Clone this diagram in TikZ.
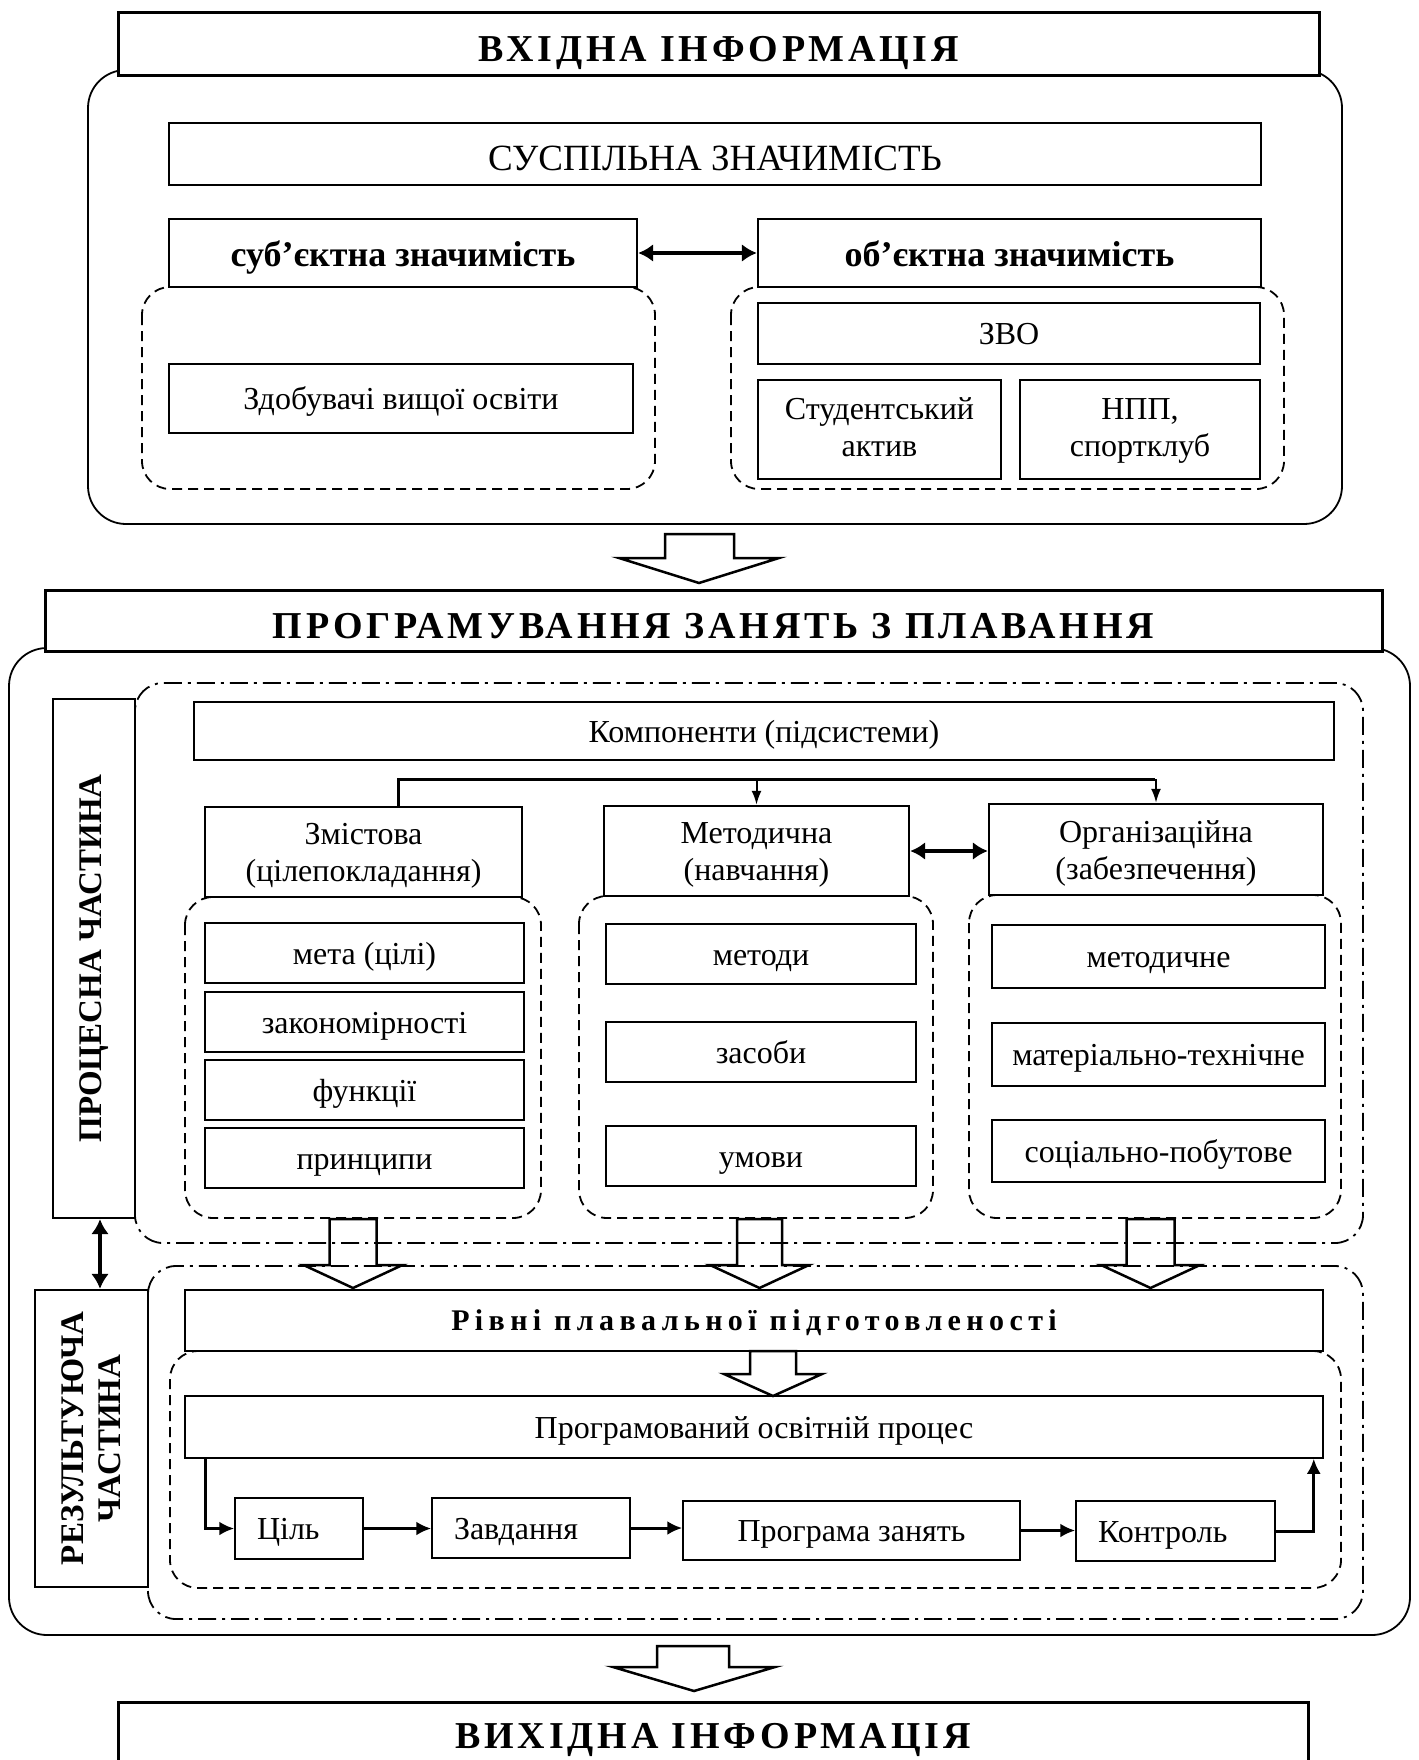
\documentclass[tikz,border=0pt]{standalone}
\usepackage{fontspec}
\setmainfont{Liberation Serif}
\newfontfamily\spacedfont[LetterSpace=10]{Liberation Serif}
\newfontfamily\widefont[LetterSpace=18]{Liberation Serif}
\newcommand\lstrut{\rule[-7pt]{0pt}{31pt}}
\newcommand\hstrut{\rule[-2pt]{0pt}{31pt}}
\usetikzlibrary{arrows.meta,positioning}

\begin{document}
\begin{tikzpicture}[
	x = 1pt, y = -1pt, % one unit = one pixel of the scheme
	> = {Latex[length=15pt,width=14pt]}, % arrow head style
	font = \fontsize{32}{37}\selectfont,
	T/.style={draw, line width=3pt, fill=white, inner sep=0pt, text depth=0pt, font=\fontsize{38}{44}\selectfont\spacedfont\bfseries},  % titles
	box/.style={draw, line width=1.5pt, fill=white, inner sep=0pt, align=center},   % plain boxes
	H/.style={box, line width=2.4pt},                                               % headers
	B/.style={box, text height=26pt, text depth=4pt},                               % one line boxes
	L/.style={B, align=left, inner xsep=22pt},                                      % left aligned boxes
	S/.style={draw, line width=2.4pt, fill=white, inner sep=0pt, rotate=90, align=center, font=\fontsize{33}{37}\selectfont\bfseries}, % side labels
	outer/.style={line width=1.8pt, rounded corners=38pt},
	dashbox/.style={line width=1.8pt, dash pattern=on 10pt off 6pt, rounded corners=28pt},
	dotbox/.style={line width=1.8pt, dash pattern=on 18pt off 6pt on 3pt off 6pt, rounded corners=28pt},
	hollow/.style={line width=2.5pt, line join=miter},
	flow/.style={line width=3pt, ->},
	drop/.style={line width=2pt, -{Latex[length=14pt,width=10pt]}},
	both/.style={line width=4pt, {Latex[length=15pt,width=18pt]}-{Latex[length=15pt,width=18pt]}},
	]
	\useasboundingbox (0,0) rectangle (1418,1760);

	% Frames
	\draw[outer] (88,70) rectangle (1342,524);
	\draw[dashbox] (142,287) rectangle (655,489);
	\draw[dashbox] (731,287) rectangle (1284,489);

	\draw[outer] (9,648) rectangle (1410,1635);
	\draw[dotbox] (135,683) rectangle (1363,1243);
	\draw[dashbox] (185,897) rectangle (541,1218);
	\draw[dashbox] (579,896) rectangle (933,1218);
	\draw[dashbox] (969,895) rectangle (1341,1218);
	\draw[dotbox] (148,1266) rectangle (1363,1619);
	\draw[dashbox] (170,1351) rectangle (1341,1588);

	% Nodes: input
	\node[T, text height=34pt, minimum width=1201pt, minimum height=63pt] (IN) at (718.5,44.5) {ВХІДНА ІНФОРМАЦІЯ};
	\node[box, text height=33pt, text depth=0pt, minimum width=1092pt, minimum height=62pt, font=\fontsize{37}{42}\selectfont] (SOC) at (715,154) {СУСПІЛЬНА ЗНАЧИМІСТЬ};
	\node[H, text height=30pt, text depth=3pt, minimum width=468pt, minimum height=68pt, font=\fontsize{36}{40}\selectfont\bfseries] (SUB) at (403,253) {суб’єктна значимість};
	\node[H, text height=30pt, text depth=3pt, minimum width=503pt, minimum height=68pt, font=\fontsize{36}{40}\selectfont\bfseries] (OBJ) at (1009.5,253) {об’єктна значимість};
	\node[B, minimum width=464pt, minimum height=69pt] (ZDO) at (401,398.5) {Здобувачі вищої освіти};
	\node[B, minimum width=502pt, minimum height=61pt] (ZVO) at (1009,333.5) {ЗВО};
	\node[box, minimum width=243pt, minimum height=99pt] (ACT) at (879.5,429.5) {Студентський\lstrut\\актив\lstrut};
	\node[box, minimum width=240pt, minimum height=99pt] (NPP) at (1140,429.5) {НПП,\lstrut\\спортклуб\lstrut};

	% Nodes: programming
	\node[T, text height=35pt, minimum width=1337pt, minimum height=61pt] (PROG) at (713.5,620.5) {ПРОГРАМУВАННЯ ЗАНЯТЬ З ПЛАВАННЯ};
	\node[S, minimum width=519pt, minimum height=82pt] (PROC) at (94,958.5) {ПРОЦЕСНА ЧАСТИНА};
	\node[B, minimum width=1140pt, minimum height=58pt] (KOMP) at (764,731) {Компоненти (підсистеми)};

	\node[H, minimum width=317pt, minimum height=90pt] (ZM) at (363.5,852) {Змістова\hstrut\\(цілепокладання)\hstrut};
	\node[H, minimum width=305pt, minimum height=90pt] (MET) at (756.5,851) {Методична\hstrut\\(навчання)\hstrut};
	\node[H, minimum width=334pt, minimum height=91pt] (ORG) at (1156,849.5) {Організаційна\hstrut\\(забезпечення)\hstrut};

	\node[B, minimum width=319pt, minimum height=60pt] (ZM1) at (364.5,953) {мета (цілі)};
	\node[B, minimum width=319pt, minimum height=60pt] (ZM2) at (364.5,1022) {закономірності};
	\node[B, minimum width=319pt, minimum height=60pt] (ZM3) at (364.5,1090) {функції};
	\node[B, minimum width=319pt, minimum height=60pt] (ZM4) at (364.5,1158) {принципи};

	\node[B, minimum width=310pt, minimum height=60pt] (MET1) at (761,954) {методи};
	\node[B, minimum width=310pt, minimum height=60pt] (MET2) at (761,1052) {засоби};
	\node[B, minimum width=310pt, minimum height=60pt] (MET3) at (761,1156) {умови};

	\node[B, minimum width=333pt, minimum height=63pt] (ORG1) at (1158.5,956.5) {методичне};
	\node[B, minimum width=333pt, minimum height=63pt] (ORG2) at (1158.5,1054.5) {матеріально-технічне};
	\node[B, minimum width=333pt, minimum height=62pt] (ORG3) at (1158.5,1151) {соціально-побутове};

	% Nodes: result
	\node[S, minimum width=297pt, minimum height=113pt] (RES) at (91.5,1438.5) {РЕЗУЛЬТУЮЧА\\ЧАСТИНА};
	\node[H, text height=22pt, text depth=3pt, minimum width=1138pt, minimum height=61pt, font=\fontsize{30}{34}\selectfont\widefont\bfseries] (RIV) at (754,1320.5) {Рівні плавальної підготовленості};
	\node[B, minimum width=1138pt, minimum height=62pt] (OSP) at (754,1427) {Програмований освітній процес};
	\node[L, text width=84pt, minimum height=61pt] (CIL) at (299,1528.5) {Ціль};
	\node[L, text width=154pt, minimum height=60pt] (ZAV) at (531,1528) {Завдання};
	\node[B, minimum width=337pt, minimum height=59pt] (PZ) at (851.5,1530.5) {Програма занять};
	\node[L, text width=155pt, minimum height=60pt] (KON) at (1175.5,1531) {Контроль};

	% Nodes: output
	\node[T, text height=24pt, minimum width=1190pt, minimum height=68pt] (OUT) at (713,1736) {ВИХІДНА ІНФОРМАЦІЯ};

	% Paths connecting nodes
	\draw[both] (SUB.east) -- (OBJ.west);

	\coordinate (bus) at (1155,779);
	\draw[line width=3pt] ([xshift=34.5pt]ZM.north) |- (bus);
	\draw[drop] (MET.north |- bus) -- (MET.north);
	\draw[drop] (ORG.north |- bus) -- (ORG.north);
	\draw[both] (MET.east) -- (MET.east -| ORG.west);

	\coordinate (pr) at ([xshift=6pt]PROC.west);
	\draw[both] (pr) -- (pr |- RES.east);

	\draw[flow] ([xshift=21pt]OSP.south west) |- (CIL.west);
	\draw[flow] (CIL.east) -- (CIL.east -| ZAV.west);
	\draw[flow] (ZAV.east) -- (ZAV.east -| PZ.west);
	\draw[flow] (PZ.east) -- (PZ.east -| KON.west);
	\draw[flow] (KON.east) -| ([xshift=-10pt]OSP.south east);

	% Block arrows
	\draw[hollow, fill=white] (665,534) -- (734,534) -- (734,558) -- (779,558) -- (699,583) -- (619,558) -- (665,558) -- cycle;
	\foreach \cx/\hw in {353/23.5, 759.5/22.5, 1150.5/24}
		\draw[hollow] ({\cx-\hw},1219) -- ({\cx+\hw},1219) -- ({\cx+\hw},1265) -- ({\cx+49.5},1265) -- (\cx,1288) -- ({\cx-49.5},1265) -- ({\cx-\hw},1265) -- cycle;
	\draw[hollow, fill=white] (750,1351) -- (796,1351) -- (796,1374) -- (822,1374) -- (773,1396) -- (724,1374) -- (750,1374) -- cycle;
	\draw[hollow, fill=white] (657,1646) -- (729,1646) -- (729,1667) -- (775,1667) -- (694,1691) -- (613,1667) -- (657,1667) -- cycle;

\end{tikzpicture}
\end{document}
